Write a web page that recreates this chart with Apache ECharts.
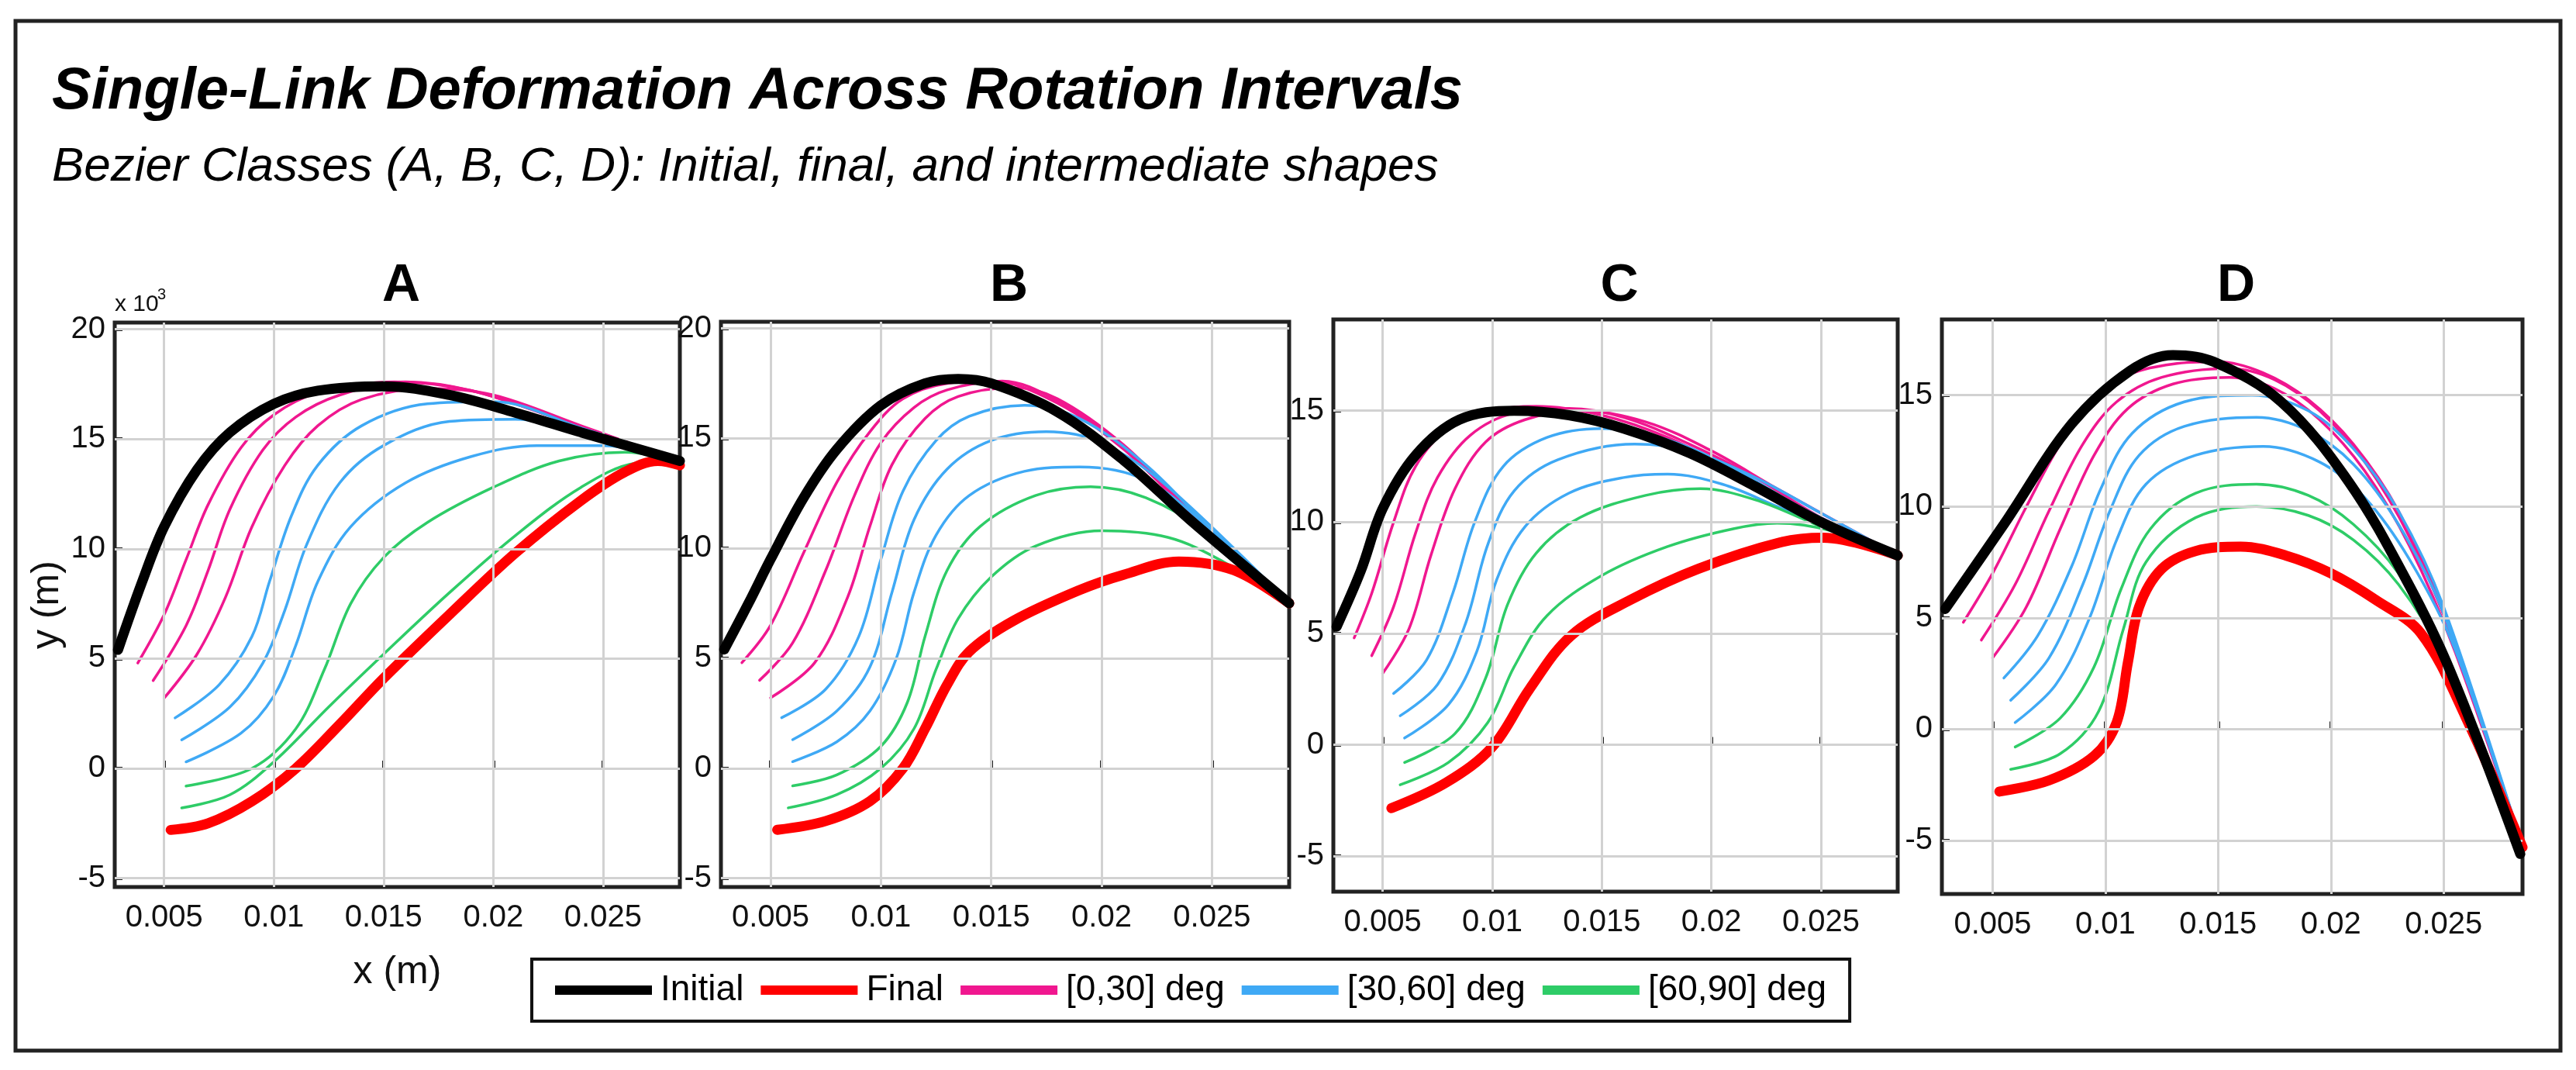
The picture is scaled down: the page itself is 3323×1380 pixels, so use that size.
<!DOCTYPE html>
<html><head><meta charset="utf-8">
<script src="https://cdn.jsdelivr.net/npm/echarts@6/dist/echarts.min.js"></script>
<style>html,body{margin:0;padding:0;background:#fff}#c{width:3323px;height:1380px}</style>
</head><body><div id="c"></div>
<script>
const panelNames = ['A','B','C','D'];
const xTicks = [0.005,0.01,0.015,0.02,0.025];
const yRanges = [[-5.4,20.3],[-5.4,20.3],[-6.6,19.1],[-7.4,18.4]];

const initialA = [[0.0029,5.4],[0.004,8.5],[0.005,11],[0.0065,13.6],[0.008,15.3],[0.01,16.6],[0.012,17.2],[0.015,17.4],[0.018,17.0],[0.021,16.2],[0.024,15.3],[0.0285,14.0]];
const pinkA = [
 [[0.0038,4.8],[0.005,7],[0.006,9.5],[0.007,12],[0.0085,14.6],[0.01,16.1],[0.012,17.1],[0.0155,17.6],[0.019,17.2],[0.023,15.9],[0.0285,14]],
 [[0.0045,4.0],[0.006,6.5],[0.007,9],[0.008,11.8],[0.0095,14.5],[0.011,16],[0.013,17],[0.016,17.6],[0.019,17.2],[0.023,15.9],[0.0285,14]],
 [[0.005,3.2],[0.0065,5.2],[0.0078,7.8],[0.009,11],[0.0105,13.8],[0.012,15.6],[0.014,16.8],[0.017,17.3],[0.02,17],[0.024,15.6],[0.0285,14]]];
const blueA = [
 [[0.0055,2.3],[0.0075,3.8],[0.009,6],[0.0098,8.5],[0.0108,11.5],[0.012,13.8],[0.014,15.6],[0.017,16.6],[0.02,16.7],[0.024,15.5],[0.0285,14]],
 [[0.0058,1.3],[0.008,2.8],[0.0095,4.8],[0.0105,7.2],[0.0115,10.2],[0.013,13],[0.015,14.7],[0.018,15.8],[0.021,15.9],[0.025,15],[0.0285,14]],
 [[0.006,0.3],[0.0085,1.6],[0.01,3.3],[0.011,5.6],[0.012,8.5],[0.0135,11],[0.016,13],[0.019,14.2],[0.022,14.7],[0.025,14.7],[0.0285,14]]];
const greenA = [
 [[0.006,-0.8],[0.009,0],[0.011,1.8],[0.0123,4.5],[0.0135,7.5],[0.015,9.6],[0.017,11.2],[0.02,12.8],[0.023,14],[0.026,14.4],[0.0285,14]],
 [[0.0058,-1.8],[0.008,-1.2],[0.01,0.3],[0.0125,2.8],[0.015,5.2],[0.018,8],[0.021,10.6],[0.024,12.8],[0.0265,13.9],[0.0285,14]]];
const finalA = [[0.0053,-2.8],[0.007,-2.5],[0.009,-1.5],[0.011,0],[0.013,2],[0.015,4.1],[0.018,7],[0.021,9.8],[0.024,12.2],[0.026,13.5],[0.0275,14],[0.0285,13.8]];

const initialB = [[0.0029,5.4],[0.004,7.5],[0.005,9.5],[0.0065,12.3],[0.008,14.5],[0.01,16.5],[0.012,17.5],[0.0135,17.7],[0.015,17.5],[0.018,16.2],[0.021,14],[0.024,11.3],[0.0285,7.5]];
const pinkB = [
 [[0.0037,4.8],[0.005,6.5],[0.0065,9.8],[0.008,13],[0.0095,15.3],[0.011,16.8],[0.013,17.5],[0.015,17.6],[0.018,16.6],[0.021,14.5],[0.024,11.6],[0.0285,7.5]],
 [[0.0045,4],[0.006,5.7],[0.0075,9],[0.0088,12.4],[0.01,14.8],[0.0115,16.4],[0.013,17.2],[0.0155,17.6],[0.018,16.7],[0.021,14.6],[0.024,11.7],[0.0285,7.5]],
 [[0.005,3.2],[0.007,4.8],[0.0085,7.8],[0.0095,11],[0.0105,13.8],[0.012,15.9],[0.0135,16.9],[0.016,17.3],[0.018,16.8],[0.021,14.7],[0.024,11.7],[0.0285,7.5]]];
const blueB = [
 [[0.0055,2.3],[0.0075,3.6],[0.009,6],[0.01,9.5],[0.011,12.6],[0.0125,14.9],[0.014,16],[0.0165,16.5],[0.019,15.9],[0.022,13.8],[0.025,10.8],[0.0285,7.5]],
 [[0.006,1.3],[0.008,2.6],[0.0095,4.6],[0.0105,8],[0.0115,11.3],[0.013,13.6],[0.015,14.9],[0.0175,15.3],[0.02,14.8],[0.023,12.8],[0.0285,7.5]],
 [[0.006,0.3],[0.008,1.2],[0.0095,2.6],[0.0107,5],[0.0115,8],[0.0125,10.6],[0.014,12.4],[0.0165,13.5],[0.019,13.7],[0.022,13.1],[0.025,10.8],[0.0285,7.5]]];
const greenB = [
 [[0.006,-0.8],[0.008,-0.3],[0.01,1],[0.0112,3],[0.012,6],[0.013,9],[0.0145,11],[0.017,12.4],[0.0195,12.8],[0.022,12.3],[0.025,10.6],[0.0285,7.5]],
 [[0.0058,-1.8],[0.008,-1.2],[0.01,0],[0.0115,1.8],[0.0125,4.5],[0.0135,6.8],[0.015,8.7],[0.017,10.1],[0.02,10.8],[0.023,10.5],[0.0255,9.4],[0.0285,7.5]]];
const finalB = [[0.0053,-2.8],[0.0075,-2.4],[0.0095,-1.5],[0.011,0],[0.012,1.8],[0.013,3.8],[0.014,5.3],[0.016,6.7],[0.019,8.1],[0.021,8.8],[0.0235,9.4],[0.026,9],[0.0285,7.5]];

const initialC = [[0.0029,5.3],[0.004,7.8],[0.005,10.6],[0.0065,13],[0.0085,14.6],[0.011,15],[0.0135,14.8],[0.016,14.2],[0.019,13.1],[0.022,11.6],[0.025,10],[0.0285,8.5]];
const pinkC = [
 [[0.0037,4.8],[0.0045,6.8],[0.0055,10],[0.0065,12.5],[0.008,14.2],[0.01,15],[0.012,15.2],[0.015,14.8],[0.018,13.8],[0.021,12.3],[0.024,10.5],[0.0285,8.5]],
 [[0.0045,4],[0.0055,6.2],[0.0065,9.5],[0.0075,12],[0.009,13.9],[0.011,14.9],[0.0135,15.1],[0.016,14.7],[0.019,13.5],[0.022,12],[0.025,10.2],[0.0285,8.5]],
 [[0.005,3.2],[0.0062,5.2],[0.0072,8.5],[0.0083,11.5],[0.0097,13.6],[0.0115,14.6],[0.014,15],[0.017,14.5],[0.02,13.2],[0.023,11.5],[0.0285,8.5]]];
const blueC = [
 [[0.0055,2.3],[0.007,3.8],[0.0082,6.8],[0.0092,10],[0.0105,12.5],[0.0125,13.8],[0.015,14.2],[0.018,13.7],[0.021,12.4],[0.024,10.7],[0.0285,8.5]],
 [[0.0058,1.3],[0.0075,2.7],[0.0088,5.5],[0.0098,9],[0.011,11.4],[0.013,12.8],[0.0165,13.5],[0.019,13.2],[0.022,12],[0.025,10.4],[0.0285,8.5]],
 [[0.006,0.3],[0.008,1.8],[0.0093,4.2],[0.0102,7.4],[0.0115,9.8],[0.0135,11.3],[0.016,12],[0.018,12.15],[0.0205,11.7],[0.023,10.7],[0.0285,8.5]]];
const greenC = [
 [[0.006,-0.8],[0.0083,0.5],[0.0097,3],[0.0107,6.3],[0.012,8.6],[0.014,10.2],[0.017,11.2],[0.0195,11.5],[0.022,11],[0.025,9.8],[0.0285,8.5]],
 [[0.0058,-1.8],[0.008,-0.8],[0.0098,1],[0.011,3.5],[0.0125,5.8],[0.015,7.6],[0.018,8.9],[0.021,9.7],[0.023,9.95],[0.0255,9.6],[0.0285,8.5]]];
const finalC = [[0.0054,-2.85],[0.0079,-1.7],[0.01,-0.1],[0.0117,2.5],[0.0136,4.9],[0.0163,6.5],[0.0194,7.9],[0.0232,9.1],[0.0251,9.3],[0.0285,8.5]];

const initialD = [[0.0029,5.4],[0.0055,9.2],[0.0085,13.7],[0.0111,16.1],[0.013,16.8],[0.0148,16.5],[0.0178,14.7],[0.0208,11.1],[0.0234,6.6],[0.0253,2.6],[0.0284,-5.6]];
const pinkD = [
 [[0.0037,4.8],[0.005,7],[0.0065,10],[0.008,12.8],[0.0095,14.8],[0.011,15.9],[0.013,16.4],[0.015,16.5],[0.017,16],[0.019,14.8],[0.021,12.8],[0.023,9.8],[0.025,5.3],[0.0285,-5.3]],
 [[0.0045,4],[0.006,6.5],[0.0075,9.8],[0.009,12.8],[0.0105,14.7],[0.0125,15.8],[0.0155,16.2],[0.0175,15.7],[0.0195,14.3],[0.0215,12],[0.0235,8.6],[0.0255,3.8],[0.0285,-5.3]],
 [[0.005,3.2],[0.0065,5.5],[0.008,9],[0.0095,12.3],[0.011,14.4],[0.013,15.5],[0.0155,15.8],[0.0175,15.3],[0.0195,13.9],[0.0215,11.6],[0.0235,8.2],[0.0255,3.5],[0.0285,-5.3]]];
const blueD = [
 [[0.0055,2.3],[0.007,4.2],[0.0085,7.3],[0.0098,10.8],[0.0112,13.3],[0.0135,14.7],[0.0165,15],[0.019,14.3],[0.021,12.6],[0.023,9.8],[0.025,5.5],[0.0285,-5.3]],
 [[0.0058,1.3],[0.0075,3.2],[0.009,6.5],[0.0102,9.8],[0.0115,12.3],[0.0135,13.6],[0.0167,14],[0.019,13.4],[0.021,11.9],[0.023,9.2],[0.025,5.2],[0.0285,-5.3]],
 [[0.006,0.3],[0.0078,2],[0.0093,5],[0.0105,8.5],[0.0118,11],[0.014,12.3],[0.017,12.7],[0.0195,12],[0.0215,10.4],[0.0235,7.6],[0.0255,3.6],[0.0285,-5.3]]];
const greenD = [
 [[0.006,-0.8],[0.008,0.5],[0.0095,2.8],[0.0107,6.3],[0.012,9],[0.014,10.6],[0.0167,11],[0.019,10.5],[0.021,9.2],[0.023,7],[0.025,3.5],[0.0285,-5.3]],
 [[0.0058,-1.8],[0.008,-1.1],[0.0097,0.8],[0.0108,4.5],[0.0118,7.5],[0.014,9.5],[0.0167,10],[0.019,9.6],[0.021,8.5],[0.023,6.5],[0.025,3.2],[0.0285,-5.3]]];
const finalD = [[0.0053,-2.8],[0.0075,-2.3],[0.0095,-1.2],[0.0105,0.3],[0.011,3],[0.0115,5.5],[0.0125,7.2],[0.014,8],[0.016,8.2],[0.018,7.8],[0.02,7],[0.022,5.8],[0.024,4.3],[0.026,0.5],[0.0285,-5.3]];

const legendNames = ['Initial','Final','[0,30] deg','[30,60] deg','[60,90] deg'];
const colors = {'Initial':'#000000','Final':'#ff0000','[0,30] deg':'#f0178f','[30,60] deg':'#3fa9f5','[60,90] deg':'#2ecc67'};

const panels = [
 {initial:initialA, pink:pinkA, blue:blueA, green:greenA, final:finalA},
 {initial:initialB, pink:pinkB, blue:blueB, green:greenB, final:finalB},
 {initial:initialC, pink:pinkC, blue:blueC, green:greenC, final:finalC},
 {initial:initialD, pink:pinkD, blue:blueD, green:greenD, final:finalD}];

const gridPos = [[148,877,416,1144],[930,1663,415,1144],[1720,2448,412,1150],[2505,3254,412,1153]];
const FONT = 'Liberation Sans';
const yTickVals = [-5,0,5,10,15,20];

const grids = [], xAxes = [], yAxes = [], series = [];
gridPos.forEach((g,i)=>{
  grids.push({left:g[0], top:g[2], width:g[1]-g[0], height:g[3]-g[2], show:true, borderColor:'#222', borderWidth:5, backgroundColor:'#fff'});
  xAxes.push({type:'value', gridIndex:i, min:0.00275, max:0.0285,
    name: i===0?'x (m)':'', nameLocation:'middle', nameGap:85, nameTextStyle:{fontFamily:FONT,fontSize:50,color:'#111'},
    axisLine:{show:false}, axisTick:{show:true,inside:true,length:10,lineStyle:{color:'#222',width:4},customValues:xTicks},
    axisLabel:{fontFamily:FONT,fontSize:40,color:'#111',margin:20,customValues:xTicks,formatter:v=>String(+v.toFixed(3))},
    splitLine:{show:false}});
  const yt = yTickVals.filter(v=>v>yRanges[i][0]&&v<yRanges[i][1]);
  yAxes.push({type:'value', gridIndex:i, min:yRanges[i][0], max:yRanges[i][1],
    name: i===0?'y (m)':'', nameLocation:'middle', nameGap:62, nameTextStyle:{fontFamily:FONT,fontSize:50,color:'#111'},
    axisLine:{show:false}, axisTick:{show:true,inside:true,length:10,lineStyle:{color:'#222',width:4},customValues:yt},
    axisLabel:{fontFamily:FONT,fontSize:40,color:'#111',margin:12,customValues:yt,formatter:v=>String(Math.round(v))},
    splitLine:{show:false}});
  const lines=[];
  xTicks.forEach(t=>lines.push([{coord:[t,yRanges[i][0]]},{coord:[t,yRanges[i][1]]}]));
  yt.forEach(t=>lines.push([{coord:[0.00275,t]},{coord:[0.0285,t]}]));
  series.push({type:'line',xAxisIndex:i,yAxisIndex:i,data:[],silent:true,z:1,
    markLine:{silent:true,symbol:['none','none'],label:{show:false},lineStyle:{color:'#d2d2d2',width:3,type:'solid'},data:lines,animation:false}});
  const p = panels[i];
  const add=(name,data,w,z)=>series.push({type:'line',name,xAxisIndex:i,yAxisIndex:i,data,smooth:0.35,
     showSymbol:false,silent:true,z,lineStyle:{color:colors[name],width:w,cap:'round'},itemStyle:{color:colors[name]}});
  p.pink.forEach(d=>add('[0,30] deg',d,3.5,3));
  p.blue.forEach(d=>add('[30,60] deg',d,3.5,3));
  p.green.forEach(d=>add('[60,90] deg',d,3.5,3));
  add('Final',p.final,13,4);
  add('Initial',p.initial,13,5);
});

const option = {
  animation:false,
  backgroundColor:'#fff',
  title:[
    {text:'Single-Link Deformation Across Rotation Intervals',left:62,top:76,textStyle:{fontFamily:FONT,fontSize:76,fontWeight:'bold',fontStyle:'italic',color:'#000'}},
    {text:'Bezier Classes (A, B, C, D): Initial, final, and intermediate shapes',left:62,top:180,textStyle:{fontFamily:FONT,fontSize:62,fontWeight:'normal',fontStyle:'italic',color:'#000'}},
    ...panelNames.map((n,i)=>({text:n,left:(gridPos[i][0]+gridPos[i][1])/2,top:330,textAlign:'center',textStyle:{fontFamily:FONT,fontSize:68,fontWeight:'bold',color:'#000'}}))
  ],
  legend:{data:legendNames,left:686,top:1237,orient:'horizontal',itemWidth:125,itemHeight:12,itemGap:22,
    padding:[17,30,17,30],borderColor:'#111',borderWidth:4,backgroundColor:'#fff',icon:'rect',selectedMode:false,
    textStyle:{fontFamily:FONT,fontSize:46,color:'#000',padding:[0,0,0,6]}},
  grid:grids, xAxis:xAxes, yAxis:yAxes, series,
  graphic:[
    {type:'rect',shape:{x:20,y:27,width:3283,height:1328},style:{fill:'none',stroke:'#222',lineWidth:5},z:-10,silent:true},
    {type:'text',left:148,top:378,style:{text:'x 10',font:'30px "Liberation Sans"',fill:'#111'}},
    {type:'text',left:203,top:370,style:{text:'3',font:'20px "Liberation Sans"',fill:'#111'}}
  ]
};
const chart = echarts.init(document.getElementById('c'));
chart.setOption(option);
</script></body></html>
